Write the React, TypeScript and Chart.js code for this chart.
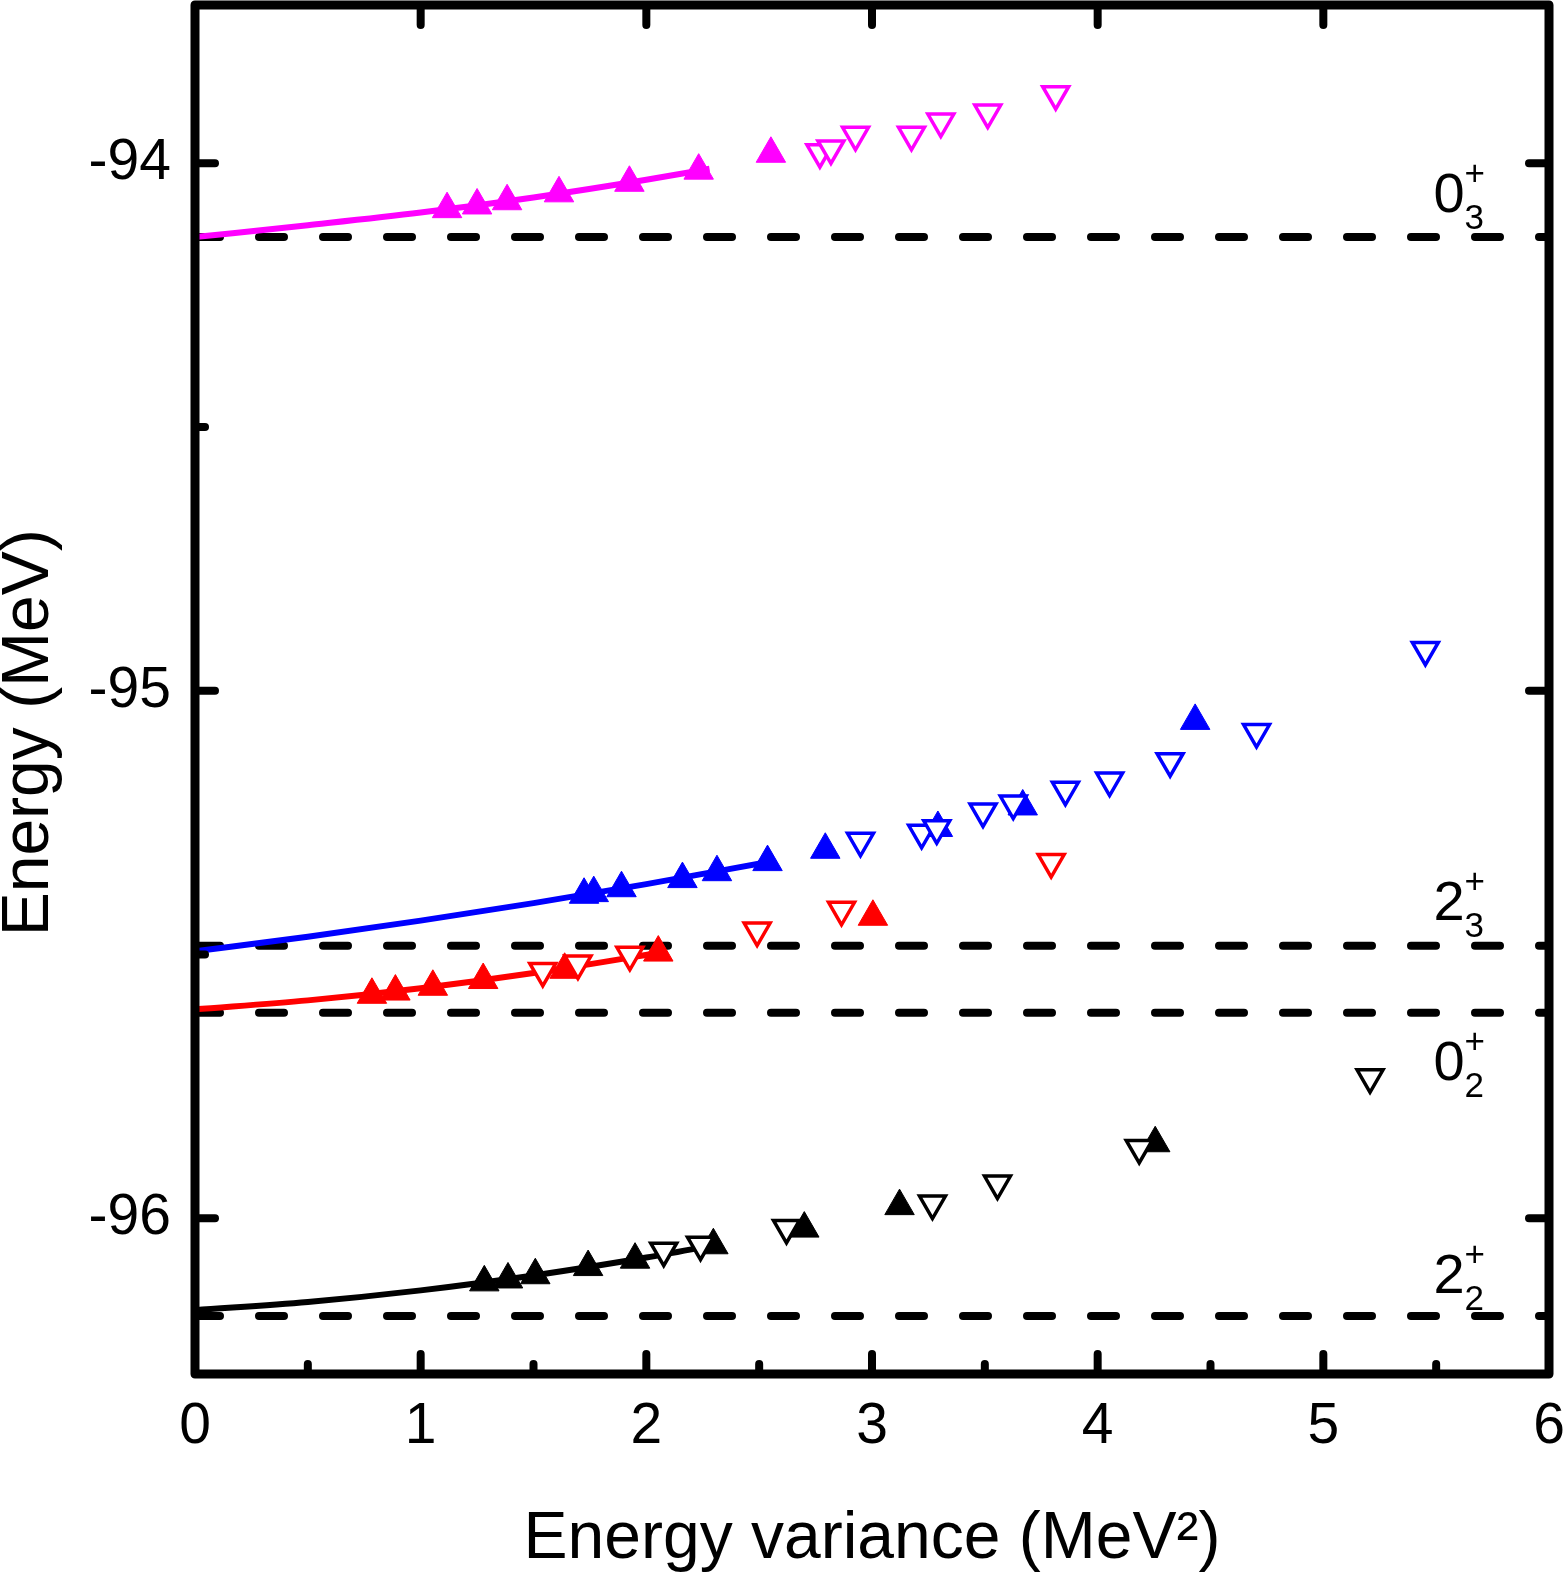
import { useEffect, useRef } from "react";
import { Chart, registerables } from "chart.js";
import type { Plugin } from "chart.js";

Chart.register(...registerables);

const FONT = "'Liberation Sans', Arial, Helvetica, sans-serif";

// reference levels (dashed lines)
const levelEnergy = [-94.14, -95.483, -95.61, -96.185];
const levelMain = ["0", "2", "0", "2"];
const levelSub = ["3", "3", "2", "2"];
const levelLabelX = 5.488;
const levelLabelY = [-94.0933, -95.4336, -95.7382, -96.1418];

// 0+_3 (magenta)
const magFilledX = [1.117, 1.25, 1.383, 1.613, 1.925, 2.232, 2.552];
const magFilledY = [-94.087, -94.08, -94.072, -94.057, -94.037, -94.014, -93.982];
const magOpenX = [2.769, 2.818, 2.927, 3.175, 3.305, 3.513, 3.814];
const magOpenY = [-93.979, -93.972, -93.946, -93.946, -93.921, -93.904, -93.869];
const magFitX = [0, 0.5, 1, 1.5, 2, 2.28];
const magFitY = [-94.14, -94.1175, -94.0935, -94.0648, -94.0313, -94.0103];

// 2+_3 (blue)
const blueFilledX = [1.724, 1.767, 1.89, 2.16, 2.313, 2.537, 2.793, 3.292, 3.668, 4.432];
const blueFilledY = [-95.3866, -95.3835, -95.3742, -95.3569, -95.3438, -95.3247, -95.3013, -95.26, -95.2192, -95.057];
const blueOpenX = [2.949, 3.22, 3.287, 3.492, 3.626, 3.857, 4.053, 4.321, 4.704, 5.452];
const blueOpenY = [-95.2843, -95.2691, -95.2607, -95.2288, -95.2137, -95.1876, -95.1701, -95.1334, -95.0782, -94.9226];
const blueFitX = [0, 0.5, 1, 1.5, 2, 2.54];
const blueFitY = [-95.4939, -95.4661, -95.4356, -95.4024, -95.3664, -95.3244];

// 0+_2 (red)
const redFilledX = [0.784, 0.888, 1.054, 1.277, 1.638, 2.053, 3.004];
const redFilledY = [-95.5762, -95.5701, -95.561, -95.5482, -95.5288, -95.4962, -95.4283];
const redOpenX = [1.541, 1.697, 1.927, 2.491, 2.865, 3.794];
const redOpenY = [-95.5309, -95.517, -95.5004, -95.4544, -95.4151, -95.3247];
const redFitX = [0, 0.5, 1, 1.5, 2.07];
const redFitY = [-95.6038, -95.5868, -95.5638, -95.535, -95.4957];

// 2+_2 (black)
const blackFilledX = [1.282, 1.387, 1.508, 1.742, 1.95, 2.297, 2.7, 3.122, 4.255];
const blackFilledY = [-96.1213, -96.1158, -96.1078, -96.0923, -96.0783, -96.051, -96.0194, -95.9768, -95.8576];
const blackOpenX = [2.077, 2.24, 2.621, 3.268, 3.556, 4.184, 5.207];
const blackOpenY = [-96.0613, -96.05, -96.0181, -95.972, -95.9339, -95.8665, -95.7327];
const blackFitX = [0, 0.5, 1, 1.5, 2, 2.3];
const blackFitY = [-96.174, -96.1585, -96.1365, -96.1083, -96.0743, -96.0508];

const pts = (xs: number[], ys: number[]) => xs.map((x, i) => ({ x, y: ys[i] }));

const series = [
  { color: "#ff00ff", fx: magFilledX, fy: magFilledY, ox: magOpenX, oy: magOpenY, lx: magFitX, ly: magFitY },
  { color: "#0000ff", fx: blueFilledX, fy: blueFilledY, ox: blueOpenX, oy: blueOpenY, lx: blueFitX, ly: blueFitY },
  { color: "#ff0000", fx: redFilledX, fy: redFilledY, ox: redOpenX, oy: redOpenY, lx: redFitX, ly: redFitY },
  { color: "#000000", fx: blackFilledX, fy: blackFilledY, ox: blackOpenX, oy: blackOpenY, lx: blackFitX, ly: blackFitY },
];

const framePlugin: Plugin<"scatter"> = {
  id: "frame",
  afterDatasetsDraw(chart) {
    const { ctx, chartArea: a } = chart;
    const xs = chart.scales.x;
    const ys = chart.scales.y;
    ctx.save();
    ctx.strokeStyle = "#000";
    ctx.lineCap = "round";
    ctx.lineWidth = 8;
    const seg = (x1: number, y1: number, x2: number, y2: number) => {
      ctx.beginPath();
      ctx.moveTo(x1, y1);
      ctx.lineTo(x2, y2);
      ctx.stroke();
    };
    const xt = xs.ticks.map((t) => t.value);
    xt.forEach((v, i) => {
      const px = xs.getPixelForValue(v);
      seg(px, a.bottom, px, a.bottom - 20);
      seg(px, a.top, px, a.top + 20);
      if (i < xt.length - 1) {
        const pm = xs.getPixelForValue((v + xt[i + 1]) / 2);
        seg(pm, a.bottom, pm, a.bottom - 10);
      }
    });
    const yt = ys.ticks.map((t) => t.value);
    yt.forEach((v, i) => {
      const py = ys.getPixelForValue(v);
      seg(a.left, py, a.left + 20, py);
      seg(a.right, py, a.right - 20, py);
      if (i < yt.length - 1) {
        const pm = ys.getPixelForValue((v + yt[i + 1]) / 2);
        seg(a.left, pm, a.left + 10, pm);
      }
    });
    ctx.lineWidth = 9;
    ctx.lineJoin = "round";
    ctx.strokeRect(a.left, a.top, a.right - a.left, a.bottom - a.top);

    // level labels
    ctx.fillStyle = "#000";
    ctx.textAlign = "left";
    ctx.textBaseline = "alphabetic";
    levelMain.forEach((m, i) => {
      const px = xs.getPixelForValue(levelLabelX);
      const py = ys.getPixelForValue(levelLabelY[i]);
      ctx.font = `56px ${FONT}`;
      ctx.fillText(m, px, py);
      const w = ctx.measureText(m).width;
      ctx.font = `35px ${FONT}`;
      ctx.fillText("+", px + w, py - 27);
      ctx.fillText(levelSub[i], px + w, py + 17);
    });

    // y axis title
    ctx.font = `66px ${FONT}`;
    ctx.textAlign = "center";
    ctx.textBaseline = "middle";
    ctx.translate(30, a.top + (a.bottom - a.top) * 0.5316);
    ctx.rotate(-Math.PI / 2);
    ctx.fillText("Energy (MeV)", 0, 0);
    ctx.restore();
  },
};

export default function App() {
  const canvasRef = useRef<HTMLCanvasElement>(null);
  const chartRef = useRef<Chart<"scatter"> | null>(null);

  useEffect(() => {
    document.body.style.margin = "0";
    document.body.style.overflow = "hidden";
    if (!canvasRef.current) return;

    const datasets: any[] = [];
    levelEnergy.forEach((e) => {
      datasets.push({
        data: [
          { x: 0, y: e },
          { x: 6, y: e },
        ],
        showLine: true,
        borderColor: "#000",
        borderWidth: 8,
        borderDash: [25, 39],
        borderCapStyle: "round",
        pointRadius: 0,
        order: 10,
      });
    });
    series.forEach((s) => {
      datasets.push({
        data: pts(s.lx, s.ly),
        showLine: true,
        borderColor: s.color,
        borderWidth: 6,
        cubicInterpolationMode: "monotone",
        pointRadius: 0,
        order: 8,
      });
      datasets.push({
        data: pts(s.fx, s.fy),
        pointStyle: "triangle",
        pointRadius: 17,
        backgroundColor: s.color,
        borderColor: s.color,
        borderWidth: 1,
        order: 6,
      });
      datasets.push({
        data: pts(s.ox, s.oy),
        pointStyle: "triangle",
        rotation: 180,
        pointRadius: 15,
        backgroundColor: "#ffffff",
        borderColor: s.color,
        borderWidth: 3.5,
        order: 4,
      });
    });

    if (chartRef.current) chartRef.current.destroy();

    chartRef.current = new Chart(canvasRef.current, {
      type: "scatter",
      data: { datasets },
      options: {
        animation: false,
        responsive: false,
        devicePixelRatio: 1,
        layout: { autoPadding: false, padding: { top: 5, right: 15, left: 0, bottom: 0 } },
        plugins: { legend: { display: false }, tooltip: { enabled: false } },
        scales: {
          x: {
            type: "linear",
            min: 0,
            max: 6,
            afterFit: (s: any) => {
              s.height = 201;
              s.paddingLeft = 0;
              s.paddingRight = 0;
            },
            grid: { display: false, drawTicks: false },
            border: { display: false },
            ticks: { stepSize: 1, padding: 19, color: "#000", font: { family: FONT, size: 57 } },
            title: {
              display: true,
              text: "Energy variance (MeV²)",
              color: "#000",
              font: { family: FONT, size: 66, lineHeight: 1 },
              padding: { top: 0, bottom: 2 },
            },
          },
          y: {
            type: "linear",
            min: -96.295,
            max: -93.7,
            afterFit: (s: any) => {
              s.width = 195;
              s.paddingTop = 0;
              s.paddingBottom = 0;
            },
            grid: { display: false, drawTicks: false },
            border: { display: false },
            ticks: { stepSize: 1, includeBounds: false, padding: 24, color: "#000", font: { family: FONT, size: 57 } },
          },
        },
      },
      plugins: [framePlugin],
    });

    return () => {
      if (chartRef.current) {
        chartRef.current.destroy();
        chartRef.current = null;
      }
    };
  }, []);

  return (
    <div style={{ width: 1564, height: 1575, overflow: "hidden", background: "#fff" }}>
      <canvas ref={canvasRef} width={1564} height={1575} style={{ display: "block", width: 1564, height: 1575 }} />
    </div>
  );
}
